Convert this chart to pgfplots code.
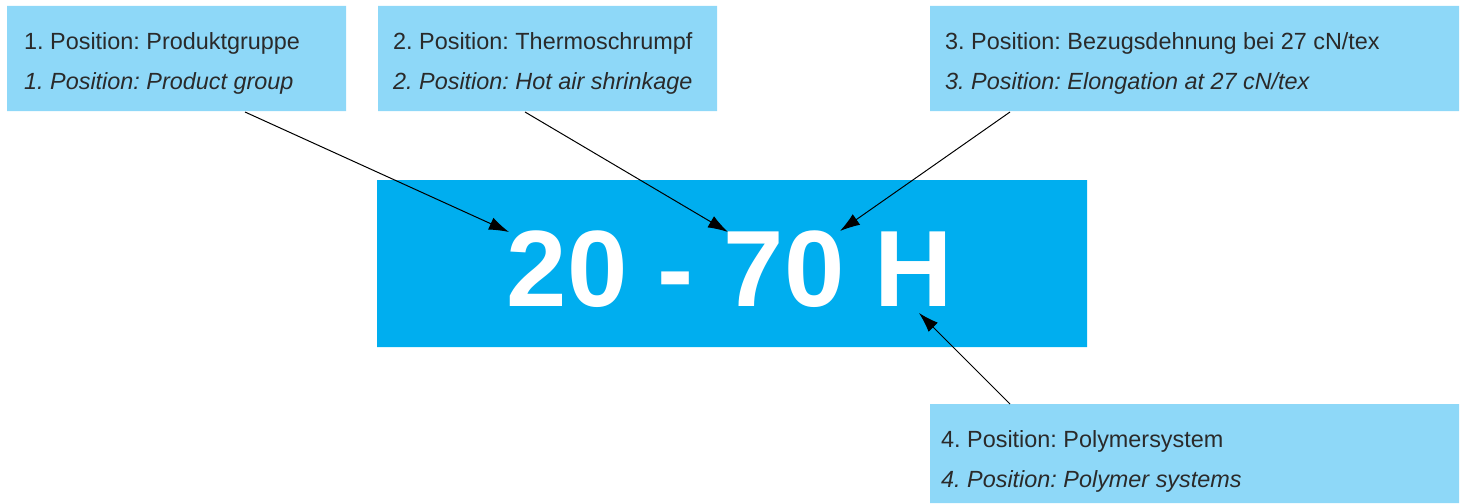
\documentclass[border=0pt]{standalone}
\usepackage{pgfplots}
\pgfplotsset{compat=1.18}
\usepackage{fontspec}
\setmainfont{Liberation Sans}
\usetikzlibrary{arrows.meta}
\definecolor{lightbox}{HTML}{8ED8F8}
\definecolor{mainbox}{HTML}{00AEEF}
\definecolor{txt}{HTML}{2A2A2A}
\frenchspacing
\begin{document}
\begin{tikzpicture}
\begin{axis}[
  width=1465bp, height=503bp, scale only axis,
  xmin=0, xmax=1465, ymin=0, ymax=503, y dir=reverse,
  axis lines=none, ticks=none, clip=false,
]
% full-frame invisible extent
\addplot[draw=none, fill=none, forget plot] coordinates {(0,0) (1465,0) (1465,503) (0,503) (0,0)};
% boxes
\addplot[draw=none, fill=lightbox] coordinates {(7,6) (346,6) (346,111) (7,111) (7,6)};
\addplot[draw=none, fill=lightbox] coordinates {(378,6) (717,6) (717,111) (378,111) (378,6)};
\addplot[draw=none, fill=lightbox] coordinates {(930,6) (1459,6) (1459,111) (930,111) (930,6)};
\addplot[draw=none, fill=lightbox] coordinates {(930,404) (1459,404) (1459,503) (930,503) (930,404)};
\addplot[draw=none, fill=mainbox] coordinates {(377,180) (1087,180) (1087,347) (377,347) (377,180)};
% arrows
\addplot[black, line width=1bp, -{Latex[length=20bp,width=13bp]}] coordinates {(245,112) (509,232)};
\addplot[black, line width=1bp, -{Latex[length=20bp,width=13bp]}] coordinates {(525,112) (728,232)};
\addplot[black, line width=1bp, -{Latex[length=20bp,width=13bp]}] coordinates {(1010,112) (840,231)};
\addplot[black, line width=1bp, -{Latex[length=20bp,width=13bp]}] coordinates {(1010,404) (919,313)};
% texts
\begin{scope}[every node/.style={anchor=base west, inner sep=0pt, text=txt, font=\fontsize{23.4bp}{28bp}\selectfont}]
\node at (axis cs:24,50) {1. Position: Produktgruppe};
\node at (axis cs:24,89) {\itshape 1. Position: Product group};
\node at (axis cs:393,50) {2. Position: Thermoschrumpf};
\node at (axis cs:393,89) {\itshape 2. Position: Hot air shrinkage};
\node at (axis cs:945,50) {3. Position: Bezugsdehnung bei 27 cN/tex};
\node at (axis cs:945,89) {\itshape 3. Position: Elongation at 27 cN/tex};
\node at (axis cs:941,447) {4. Position: Polymersystem};
\node at (axis cs:941,487) {\itshape 4. Position: Polymer systems};
\end{scope}
\node[anchor=base, inner sep=0pt, text=white, font=\fontsize{108.5bp}{120bp}\selectfont\bfseries] at (axis cs:730,306) {20 - 70 H};
\end{axis}
\end{tikzpicture}
\end{document}
